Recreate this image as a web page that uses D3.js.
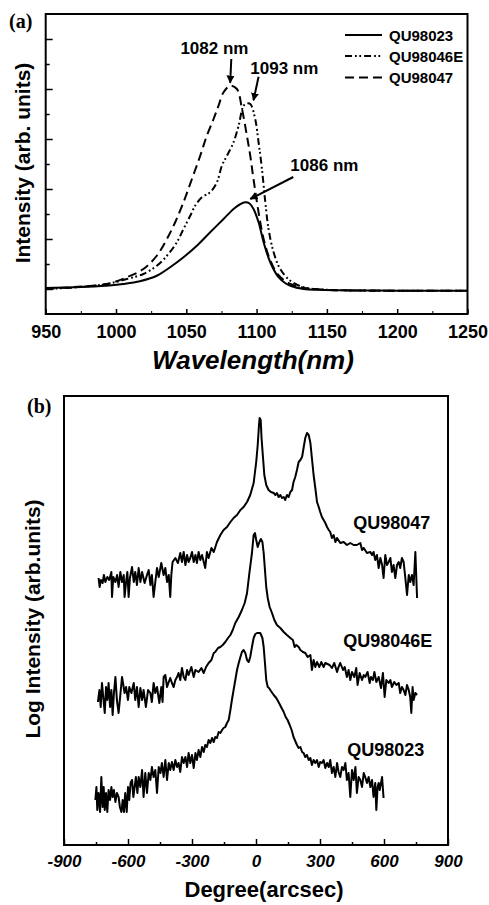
<!DOCTYPE html>
<html><head><meta charset="utf-8">
<script src="https://cdn.jsdelivr.net/npm/d3@7"></script>
<style>
body{margin:0;background:#fff}
svg{display:block}
text{font-family:"Liberation Sans",Arial,Helvetica,sans-serif;font-weight:bold;fill:#000}
text.serif{font-family:"Liberation Serif","Times New Roman",serif}
</style>
</head><body>
<svg id="c" width="489" height="905"></svg>
<script>
// ---------------- Panel (a): PL spectra ----------------
const wlRange = [950, 1250];
const wlTicksMajor = [950, 1000, 1050, 1100, 1150, 1200, 1250];
const wlTicksMinor = [975, 1025, 1075, 1125, 1175, 1225];
const intTicksMajor = [1, 3, 5, 7, 9, 11];
const intTicksMinor = [2, 4, 6, 8, 10];

const names = ["QU98023", "QU98046E", "QU98047"];

const wl_QU98023 = [950, 970, 993, 1005, 1017, 1029, 1038.5, 1048, 1057.5, 1067, 1076.5, 1083.6, 1088, 1092, 1095, 1097.8, 1101.4, 1105, 1109.7, 1115.6, 1120, 1124, 1133.4, 1145, 1160, 1180, 1200, 1225, 1250];
const int_QU98023 = [1.04, 1.07, 1.13, 1.2, 1.31, 1.53, 1.87, 2.27, 2.73, 3.27, 3.8, 4.2, 4.38, 4.47, 4.42, 4.2, 3.67, 2.87, 2.07, 1.47, 1.25, 1.13, 1.0, 0.97, 0.95, 0.94, 0.93, 0.93, 0.93];

const wl_QU98046E = [950, 970, 993.4, 1007.7, 1019.5, 1029, 1036.2, 1043.3, 1048, 1052.8, 1056.3, 1061.1, 1067, 1071.8, 1075.3, 1078.9, 1083.6, 1087.2, 1090.7, 1093, 1095.5, 1099, 1101.4, 1103.8, 1106.2, 1108.5, 1112.1, 1116.8, 1124, 1133.4, 1145, 1160, 1200, 1250];
const int_QU98046E = [1.0, 1.06, 1.2, 1.4, 1.6, 1.93, 2.33, 2.87, 3.4, 3.93, 4.33, 4.67, 4.87, 5.27, 5.93, 6.33, 6.87, 7.53, 8.33, 8.42, 8.4, 7.8, 6.87, 5.8, 4.47, 3.4, 2.47, 1.8, 1.33, 1.07, 0.99, 0.95, 0.93, 0.93];

const wl_QU98047 = [950, 970, 993.4, 1007.7, 1019.5, 1029, 1036.2, 1042.1, 1048, 1054, 1059.9, 1064.6, 1069.4, 1072.9, 1076.5, 1081.2, 1086, 1089.6, 1093.1, 1095.5, 1097.8, 1101.4, 1105, 1109.7, 1115.6, 1124, 1133.4, 1145, 1160, 1200, 1250];
const int_QU98047 = [1.0, 1.08, 1.2, 1.47, 1.8, 2.33, 3.0, 3.67, 4.47, 5.4, 6.33, 7.13, 7.8, 8.33, 8.87, 9.13, 9.0, 8.2, 7.13, 6.33, 5.4, 4.07, 3.0, 2.15, 1.55, 1.2, 1.05, 0.98, 0.95, 0.93, 0.93];

// peak annotations (data units: wavelength, intensity)
const peakLabels = ["1082 nm", "1093 nm", "1086 nm"];
const peakText = [[1070, 10.4], [1119.7, 9.6], [1148.2, 5.74]];
const peakArrowTail = [[1082, 10.2], [1101.4, 9.49], [1126.1, 5.48]];
const peakArrowTip = [[1081.2, 9.25], [1097.8, 8.55], [1095.5, 4.6]];

// ---------------- Panel (b): XRD rocking curves ----------------
const degRange = [-900, 900];
const degTicksMajor = [-900, -600, -300, 0, 300, 600, 900];
const degTicksMinor = [-750, -450, -150, 150, 450, 750];

const deg_QU98047 = [-738,-733,-727,-719,-713,-706,-697,-688,-678,-675,-669,-659,-651,-644,-636,-628,-620,-616,-609,-603,-597,-591,-581,-573,-566,-558,-550,-542,-534,-522,-511,-503,-495,-488,-480,-472,-464,-456,-444,-433,-425,-417,-409,-402,-397,-391,-378,-366,-355,-347,-339,-331,-323,-316,-308,-300,-292,-284,-277,-269,-261,-253,-245,-238,-230,-222,-209,-198,-183,-167,-152,-136,-120,-105,-89,-73,-58,-42,-27,-11,1,8,14,17,22,26,33,39,48,59,70,83,91,98,106,114,122,130,137,145,153,161,169,176,184,192,200,208,216,223,231,239,247,255,262,270,278,286,294,301,309,317,325,333,341,348,356,364,372,380,395,411,426,442,458,473,489,497,505,520,536,544,551,559,567,575,583,591,598,606,614,622,630,637,645,653,661,669,676,684,692,700,708,716,723,731,739,747,755];
const val_QU98047 = [26.7,25.8,26.5,26.2,27.0,26.3,26.8,26.5,27.3,24.8,26.8,26.3,27.0,25.8,27.3,26.3,27.0,24.8,26.3,27.3,24.8,26.7,27.8,26.3,27.3,26.0,27.7,26.3,27.3,26.2,27.0,27.5,26.0,27.0,24.8,26.3,27.7,26.8,28.2,27.0,27.7,26.3,27.0,24.8,27.0,28.3,28.7,28.2,29.2,28.3,29.3,28.0,29.0,28.3,28.7,29.3,28.3,29.0,28.2,29.3,28.5,29.0,28.3,27.7,29.3,28.7,29.7,29.3,30.3,31.0,31.5,31.8,32.3,32.7,33.0,33.5,33.8,34.3,35.0,36.2,38.3,40.0,42.0,42.7,42.5,40.7,38.7,37.0,36.0,35.5,35.3,35.2,35.0,35.2,34.8,35.0,34.7,34.8,34.5,35.0,34.8,35.3,35.5,36.3,36.8,37.5,38.3,38.5,38.8,39.7,40.7,41.2,41.0,40.2,38.7,37.0,35.7,34.3,33.8,33.3,32.8,32.5,32.2,31.8,31.5,31.3,30.7,31.0,30.3,30.7,30.2,30.3,30.0,30.2,30.0,30.0,30.2,29.5,29.7,29.2,29.3,29.0,29.3,28.5,29.0,27.7,28.7,28.0,26.7,29.0,28.0,28.3,28.7,27.3,28.0,26.7,28.0,28.3,27.7,28.7,28.3,26.7,25.0,27.0,26.3,27.0,26.0,29.3,24.7];

const deg_QU98046E = [-741,-734,-728,-722,-716,-709,-703,-697,-691,-684,-678,-672,-666,-659,-652,-644,-628,-616,-609,-600,-594,-584,-573,-566,-558,-550,-542,-534,-527,-516,-506,-495,-488,-480,-472,-464,-453,-444,-438,-433,-425,-417,-409,-402,-394,-386,-378,-370,-363,-355,-347,-339,-331,-323,-316,-303,-292,-284,-269,-256,-245,-234,-222,-209,-198,-191,-178,-167,-156,-144,-131,-120,-109,-97,-81,-66,-53,-42,-31,-19,-11,-5,1,8,16,23,30,36,42,48,55,64,75,86,98,114,130,145,161,173,181,189,200,208,220,231,242,255,262,270,278,286,297,306,317,325,345,356,367,380,387,395,408,416,426,434,442,450,461,470,476,486,497,505,512,523,533,539,548,555,564,575,586,595,603,611,622,630,637,648,658,669,676,684,692,700,708,716,723,728,734,739,747,755];
const val_QU98046E = [14.3,15.5,13.8,16.2,14.8,13.2,15.8,14.5,16.2,13.8,15.5,13.0,15.2,16.8,14.5,13.2,16.8,15.2,15.8,14.5,15.8,15.2,16.2,14.5,15.8,13.8,15.7,14.5,15.5,13.8,15.5,15.2,14.3,16.2,15.2,15.8,14.2,15.8,14.3,16.8,17.0,15.8,16.3,16.7,16.2,15.8,16.5,16.8,17.2,16.5,17.7,16.8,16.5,17.5,17.0,17.8,16.8,17.5,17.3,17.7,17.2,17.8,18.2,18.5,19.2,19.3,19.7,19.8,20.0,20.3,20.7,21.0,21.5,22.2,22.8,23.5,24.2,25.2,27.2,29.2,31.0,31.2,30.5,29.8,30.3,30.6,30.3,29.2,27.5,25.8,24.7,23.8,23.2,22.5,22.0,21.7,21.3,21.0,20.7,20.5,19.8,20.0,19.8,19.5,19.3,19.2,18.8,19.0,17.5,18.5,17.8,18.3,17.8,18.3,17.8,18.2,18.0,17.7,18.2,17.3,17.8,18.2,17.5,17.8,16.8,17.5,16.5,17.3,16.8,17.7,16.0,17.2,16.5,17.0,16.8,17.3,16.2,16.8,16.5,17.3,16.3,16.8,15.7,17.2,14.8,16.5,16.2,16.5,15.8,16.3,16.0,16.2,15.2,15.8,15.5,15.0,16.0,15.5,14.8,13.2,15.8,14.5,15.2,15.0];

const deg_QU98023 = [-753,-748,-744,-738,-731,-725,-719,-714,-709,-703,-697,-691,-684,-678,-672,-666,-659,-652,-644,-638,-631,-625,-619,-613,-606,-600,-594,-588,-581,-575,-569,-563,-556,-550,-542,-534,-527,-519,-511,-503,-495,-488,-480,-472,-464,-456,-448,-441,-433,-425,-417,-409,-402,-394,-386,-378,-370,-363,-355,-347,-339,-331,-323,-316,-308,-300,-292,-284,-277,-269,-261,-253,-245,-238,-230,-222,-214,-206,-198,-191,-183,-175,-167,-159,-152,-144,-136,-128,-120,-113,-105,-97,-89,-81,-73,-66,-58,-50,-42,-34,-27,-19,-11,-3,5,8,20,30,36,42,48,55,61,70,83,95,108,120,130,139,148,158,167,176,186,192,200,208,216,223,231,239,247,255,262,270,278,286,294,301,309,317,325,333,341,348,356,364,372,380,387,395,403,411,419,426,434,442,450,458,466,473,481,489,497,505,512,520,528,536,544,551,559,564,570,575,580,591,598];
const val_QU98023 = [4.5,5.8,3.5,5.2,3.3,6.8,3.8,5.8,3.5,5.2,3.3,5.5,4.5,5.8,4.8,5.5,4.3,5.2,4.8,3.8,3.3,4.5,3.3,5.2,3.3,5.8,4.5,6.2,6.5,4.8,5.8,6.8,5.2,6.8,5.8,7.5,4.8,7.2,5.2,7.2,6.5,7.8,6.8,7.5,5.2,7.8,7.2,8.2,6.8,8.5,6.5,8.2,7.5,8.3,7.5,8.5,7.8,8.2,7.3,8.8,8.2,8.8,7.8,9.2,8.2,9.0,7.7,9.2,8.5,9.5,8.8,9.8,9.3,10.0,9.8,10.5,10.2,10.7,10.3,10.8,10.7,11.3,11.2,11.5,11.7,11.8,12.2,12.5,13.5,14.5,15.5,16.5,17.5,18.2,18.8,19.3,19.5,19.2,18.5,18.3,18.8,19.8,20.7,21.1,21.2,21.2,21.2,20.7,19.8,18.2,16.5,15.8,15.7,15.4,15.0,14.7,14.2,13.7,13.3,12.8,12.5,12.0,11.5,10.8,10.3,10.0,9.7,9.8,9.3,9.2,8.8,9.0,8.5,8.7,8.0,8.5,8.2,8.5,7.8,8.3,8.2,8.5,7.7,8.2,7.8,8.5,7.2,7.8,6.8,8.2,7.3,6.8,7.8,7.5,8.2,6.5,7.2,4.8,7.5,6.5,7.8,5.2,6.8,6.5,5.8,7.2,6.8,6.2,6.8,5.8,6.5,4.8,6.2,3.5,5.8,6.2,5.5,6.8,4.7];

// label positions in data units (deg, log-intensity)
const xrdLabelPos = [[456, 31.6], [409, 19.8], [428, 8.9]];
const xrdLabelNames = ["QU98047", "QU98046E", "QU98023"];

// ---------------- Drawing ----------------
const svg = d3.select("#c");
svg.append("rect").attr("width", 489).attr("height", 905).attr("fill", "#fff");

const styles = {
  "QU98023": null,
  "QU98046E": "7,3,1.8,2.5,1.8,3",
  "QU98047": "9,5"
};

// ===== Panel (a) =====
const ax = d3.scaleLinear().domain(wlRange).range([45.7, 467.5]);
const ay = d3.scaleLinear().domain([0, 12]).range([314, 14]);
const ga = svg.append("g");

ga.append("g").attr("transform", `translate(0,${ay(0)})`)
  .call(d3.axisBottom(ax).tickValues(wlTicksMinor).tickSize(-3).tickFormat(""))
  .call(g => g.select(".domain").remove());
const axA = ga.append("g").attr("transform", `translate(0,${ay(0)})`)
  .call(d3.axisBottom(ax).tickValues(wlTicksMajor).tickSize(-5).tickPadding(11).tickFormat(d => String(d)));
axA.select(".domain").remove();
axA.selectAll("text").attr("font-size", 18);
axA.selectAll("line").attr("stroke-width", 1.5);

ga.append("g").attr("transform", `translate(${ax(950)},0)`)
  .call(d3.axisLeft(ay).tickValues(intTicksMajor).tickSize(-7).tickFormat(""))
  .call(g => g.select(".domain").remove())
  .selectAll("line").attr("stroke-width", 1.5);
ga.append("g").attr("transform", `translate(${ax(950)},0)`)
  .call(d3.axisLeft(ay).tickValues(intTicksMinor).tickSize(-4).tickFormat(""))
  .call(g => g.select(".domain").remove())
  .selectAll("line").attr("stroke-width", 1.5);

ga.append("rect")
  .attr("x", ax(950)).attr("y", ay(12))
  .attr("width", ax(1250) - ax(950)).attr("height", ay(0) - ay(12))
  .attr("fill", "none").attr("stroke", "#000").attr("stroke-width", 2);

const lineA = d3.line().x(d => ax(d[0])).y(d => ay(d[1])).curve(d3.curveCatmullRom.alpha(0.5));
const seriesA = [
  ["QU98023", wl_QU98023, int_QU98023],
  ["QU98046E", wl_QU98046E, int_QU98046E],
  ["QU98047", wl_QU98047, int_QU98047]
];
seriesA.forEach(([n, xs, ys]) => {
  ga.append("path")
    .datum(xs.map((x, i) => [x, ys[i]]))
    .attr("d", lineA)
    .attr("fill", "none").attr("stroke", "#000")
    .attr("stroke-width", 2)
    .attr("stroke-dasharray", styles[n]);
});

// legend
const legY = [35, 56, 77.5];
names.forEach((n, i) => {
  ga.append("line").attr("x1", 345).attr("x2", 382).attr("y1", legY[i]).attr("y2", legY[i])
    .attr("stroke", "#000").attr("stroke-width", 2).attr("stroke-dasharray", styles[n]);
  ga.append("text").attr("x", 389).attr("y", legY[i] + 5.5).attr("font-size", 15).text(n);
});

// peak annotations
const defs = svg.append("defs");
defs.append("marker").attr("id", "ah").attr("viewBox", "0 0 10 10")
  .attr("refX", 9).attr("refY", 5).attr("markerWidth", 8).attr("markerHeight", 8)
  .attr("markerUnits", "userSpaceOnUse").attr("orient", "auto")
  .append("path").attr("d", "M0,0 L10,5 L0,10 z").attr("fill", "#000");
peakLabels.forEach((lab, i) => {
  ga.append("text").attr("x", ax(peakText[i][0])).attr("y", ay(peakText[i][1]))
    .attr("text-anchor", "middle").attr("font-size", 17).text(lab);
  ga.append("line")
    .attr("x1", ax(peakArrowTail[i][0])).attr("y1", ay(peakArrowTail[i][1]))
    .attr("x2", ax(peakArrowTip[i][0])).attr("y2", ay(peakArrowTip[i][1]))
    .attr("stroke", "#000").attr("stroke-width", 2).attr("marker-end", "url(#ah)");
});

// axis titles
ga.append("text").attr("x", 253).attr("y", 369).attr("text-anchor", "middle")
  .attr("font-size", 26).attr("font-style", "italic").text("Wavelength(nm)");
ga.append("text").attr("transform", "translate(30,163) rotate(-90)").attr("text-anchor", "middle")
  .attr("font-size", 21).text("Intensity (arb. units)");
ga.append("text").attr("class", "serif").attr("x", 9).attr("y", 28).attr("font-size", 20).text("(a)");

// ===== Panel (b) =====
const bx = d3.scaleLinear().domain(degRange).range([64, 448]);
const by = d3.scaleLinear().domain([0, 44.9]).range([845, 396]);
const gb = svg.append("g");

gb.append("g").attr("transform", `translate(0,${by(0)})`)
  .call(d3.axisBottom(bx).tickValues(degTicksMinor).tickSize(-3).tickFormat(""))
  .call(g => g.select(".domain").remove())
  .selectAll("line").attr("stroke-width", 1.5);
const axB = gb.append("g").attr("transform", `translate(0,${by(0)})`)
  .call(d3.axisBottom(bx).tickValues(degTicksMajor).tickSize(-6).tickPadding(10).tickFormat(d => String(d)));
axB.select(".domain").remove();
axB.selectAll("line").attr("stroke-width", 1.5);
axB.selectAll("text").attr("font-size", 17).style("font-style", "italic");

gb.append("rect")
  .attr("x", bx(-900)).attr("y", by(44.9))
  .attr("width", bx(900) - bx(-900)).attr("height", by(0) - by(44.9))
  .attr("fill", "none").attr("stroke", "#000").attr("stroke-width", 2);

const lineB = d3.line().x(d => bx(d[0])).y(d => by(d[1]));
[[deg_QU98047, val_QU98047], [deg_QU98046E, val_QU98046E], [deg_QU98023, val_QU98023]].forEach(([xs, ys]) => {
  gb.append("path")
    .datum(xs.map((x, i) => [x, ys[i]]))
    .attr("d", lineB)
    .attr("fill", "none").attr("stroke", "#000")
    .attr("stroke-width", 2).attr("stroke-linejoin", "round");
});

xrdLabelNames.forEach((n, i) => {
  gb.append("text").attr("x", bx(xrdLabelPos[i][0])).attr("y", by(xrdLabelPos[i][1]))
    .attr("font-size", 18).text(n);
});

gb.append("text").attr("x", 264).attr("y", 897).attr("text-anchor", "middle")
  .attr("font-size", 22).text("Degree(arcsec)");
gb.append("text").attr("transform", "translate(40,619) rotate(-90)").attr("text-anchor", "middle")
  .attr("font-size", 21).text("Log Intensity (arb.units)");
gb.append("text").attr("class", "serif").attr("x", 27).attr("y", 413).attr("font-size", 20).text("(b)");
</script>
</body></html>
